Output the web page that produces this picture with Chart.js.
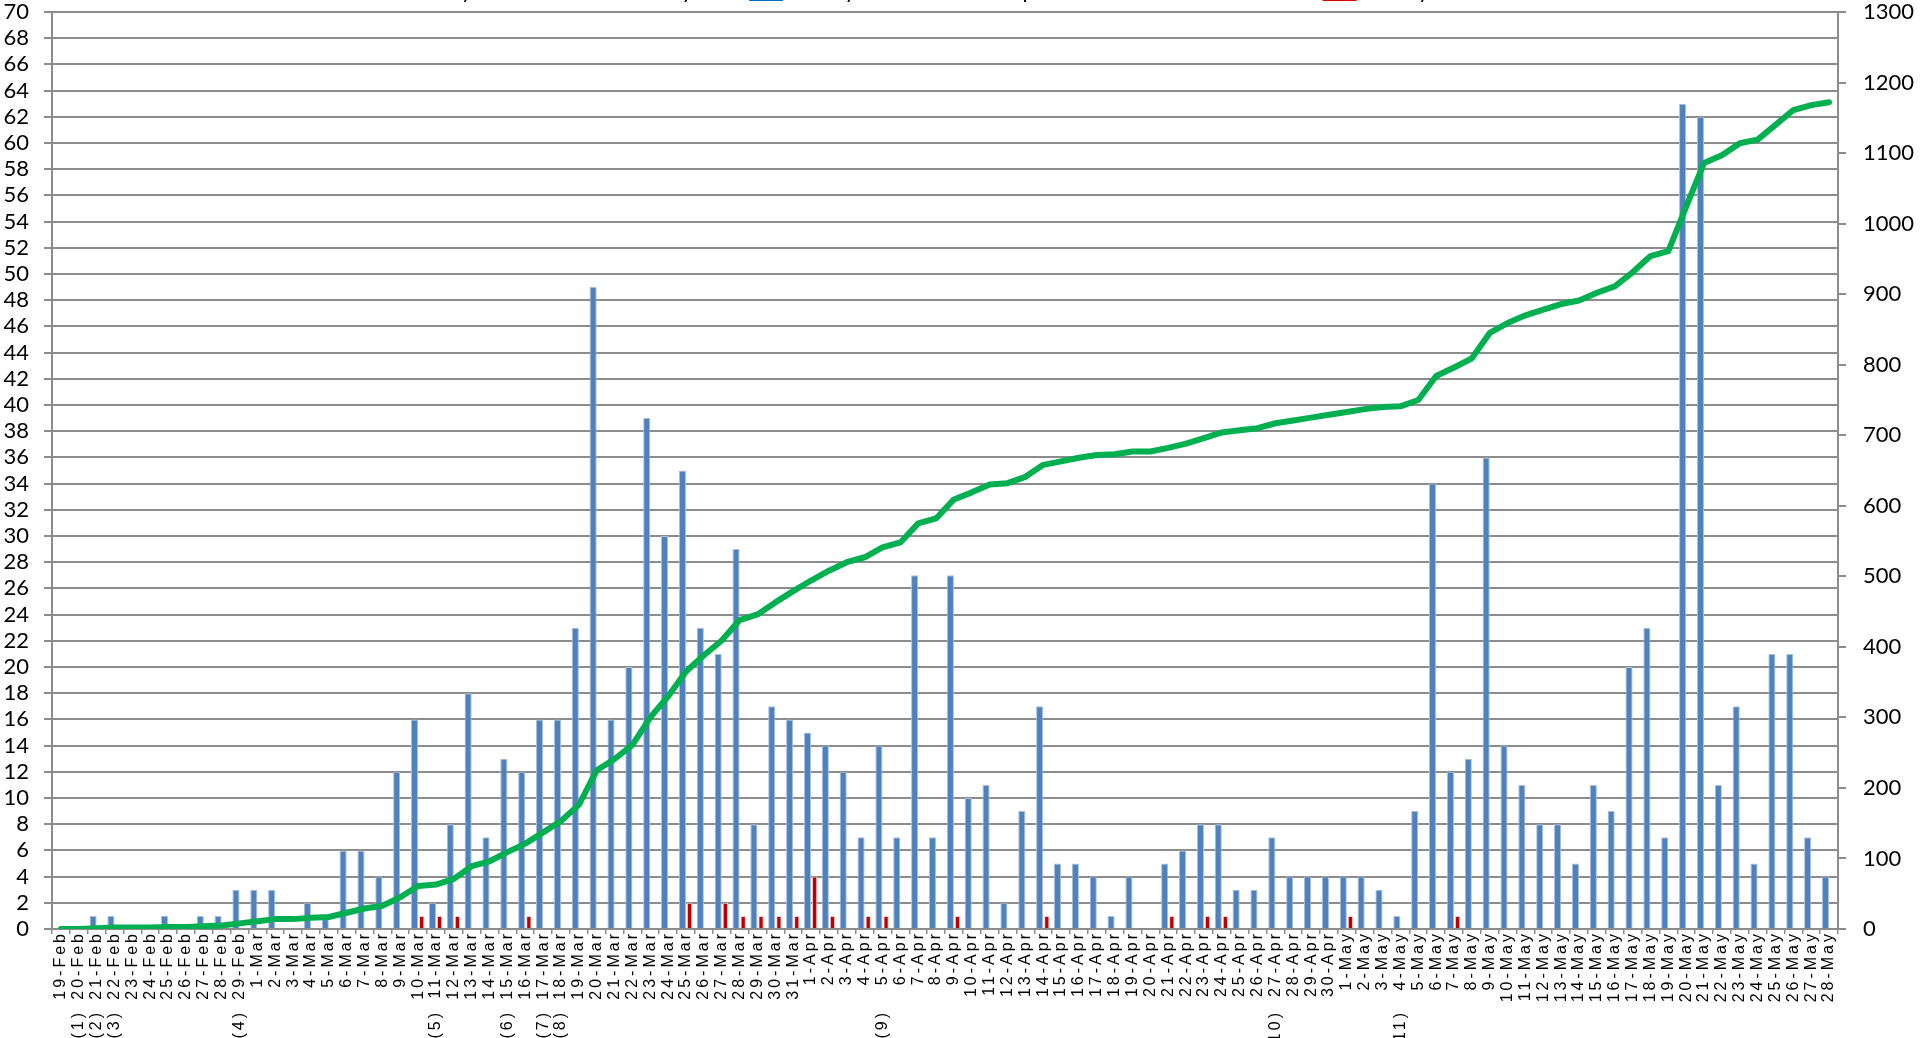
<!DOCTYPE html>
<html>
<head>
<meta charset="utf-8">
<title>Daily cases</title>
<script src="https://cdn.jsdelivr.net/npm/chart.js@4.4.1/dist/chart.umd.min.js"></script>
<style>
  html, body { margin: 0; padding: 0; background: #fff; width: 1920px; height: 1038px; overflow: hidden; }
  #wrap { position: absolute; left: 0; top: 0; width: 1920px; height: 1100px; }
</style>
</head>
<body>
<div id="wrap"><canvas id="chart"></canvas></div>
<script>
// category axis
const dates = [
  '19-Feb', '20-Feb', '21-Feb', '22-Feb', '23-Feb', '24-Feb', '25-Feb', '26-Feb', '27-Feb', '28-Feb', '29-Feb',
  '1-Mar', '2-Mar', '3-Mar', '4-Mar', '5-Mar', '6-Mar', '7-Mar', '8-Mar', '9-Mar', '10-Mar',
  '11-Mar', '12-Mar', '13-Mar', '14-Mar', '15-Mar', '16-Mar', '17-Mar', '18-Mar', '19-Mar', '20-Mar',
  '21-Mar', '22-Mar', '23-Mar', '24-Mar', '25-Mar', '26-Mar', '27-Mar', '28-Mar', '29-Mar', '30-Mar', '31-Mar',
  '1-Apr', '2-Apr', '3-Apr', '4-Apr', '5-Apr', '6-Apr', '7-Apr', '8-Apr', '9-Apr', '10-Apr',
  '11-Apr', '12-Apr', '13-Apr', '14-Apr', '15-Apr', '16-Apr', '17-Apr', '18-Apr', '19-Apr', '20-Apr',
  '21-Apr', '22-Apr', '23-Apr', '24-Apr', '25-Apr', '26-Apr', '27-Apr', '28-Apr', '29-Apr', '30-Apr',
  '1-May', '2-May', '3-May', '4-May', '5-May', '6-May', '7-May', '8-May', '9-May', '10-May',
  '11-May', '12-May', '13-May', '14-May', '15-May', '16-May', '17-May', '18-May', '19-May', '20-May',
  '21-May', '22-May', '23-May', '24-May', '25-May', '26-May', '27-May', '28-May'
];

// numbered notes printed under some dates
const noteMarks = ['(1)', '(2)', '(3)', '(4)', '(5)', '(6)', '(7)', '(8)', '(9)', '(10)', '(11)'];
const noteDates = ['20-Feb', '21-Feb', '22-Feb', '29-Feb', '11-Mar', '15-Mar', '17-Mar', '18-Mar', '5-Apr', '27-Apr', '4-May'];

// legend text is cut off at the top edge in the original
const seriesNames = [
  'Cumulative confirmed cases by date on the secondary axis',
  'Newly confirmed cases per date on the left hand axis.',
  'Newly recorded deaths on the left hand axis'
];

const dailyCases = [
  0, 0, 1, 1, 0, 0, 1, 0, 1, 1, 3,
  3, 3, 0, 2, 1, 6, 6, 4, 12, 16,
  2, 8, 18, 7, 13, 12, 16, 16, 23, 49,
  16, 20, 39, 30, 35, 23, 21, 29, 8, 17, 16,
  15, 14, 12, 7, 14, 7, 27, 7, 27, 10,
  11, 2, 9, 17, 5, 5, 4, 1, 4, 0,
  5, 6, 8, 8, 3, 3, 7, 4, 4, 4,
  4, 4, 3, 1, 9, 34, 12, 13, 36, 14,
  11, 8, 8, 5, 11, 9, 20, 23, 7, 63,
  62, 11, 17, 5, 21, 21, 7, 4
];

const dailyDeaths = [
  0, 0, 0, 0, 0, 0, 0, 0, 0, 0, 0,
  0, 0, 0, 0, 0, 0, 0, 0, 0, 1,
  1, 1, 0, 0, 0, 1, 0, 0, 0, 0,
  0, 0, 0, 0, 2, 0, 2, 1, 1, 1, 1,
  4, 1, 0, 1, 1, 0, 0, 0, 1, 0,
  0, 0, 0, 1, 0, 0, 0, 0, 0, 0,
  1, 0, 1, 1, 0, 0, 0, 0, 0, 0,
  1, 0, 0, 0, 0, 0, 1, 0, 0, 0,
  0, 0, 0, 0, 0, 0, 0, 0, 0, 0,
  0, 0, 0, 0, 0, 0, 0, 0
];

const totalCases = [
  0, 0, 1, 2, 2, 2, 3, 3, 4, 5, 8,
  11, 14, 14, 16, 17, 23, 29, 33, 45, 61,
  63, 71, 89, 96, 109, 121, 137, 153, 176, 225,
  241, 261, 300, 330, 365, 388, 409, 438, 446, 463, 479,
  494, 508, 520, 527, 541, 548, 575, 582, 609, 619,
  630, 632, 641, 658, 663, 668, 672, 673, 677, 677,
  682, 688, 696, 704, 707, 710, 717, 721, 725, 729,
  733, 737, 740, 741, 750, 784, 796, 809, 845, 859,
  870, 878, 886, 891, 902, 911, 931, 954, 961, 1024,
  1086, 1097, 1114, 1119, 1140, 1161, 1168, 1172
];

const leftMax = 70, leftStep = 2;
const rightMax = 1300, rightStep = 100;

const noteRow = dates.map((d) => {
  const k = noteDates.indexOf(d);
  return k >= 0 ? noteMarks[k] : '';
});

const GRID = '#8c8c8c';
const PLOT_TOP = 12;      // page y of the 70 line
const PLOT_BOTTOM = 929;  // page y of the 0 line
const X_H = 80, X2_H = 40;

// the date labels in the original are widely letter spaced
const spacedTicks = {
  id: 'spacedTicks',
  beforeDraw(chart) {
    ['x', 'x2'].forEach((id) => {
      const scale = chart.scales[id];
      if (!scale || scale._spaced) return;
      const draw = scale.drawLabels.bind(scale);
      scale.drawLabels = (area) => {
        chart.ctx.save();
        chart.ctx.letterSpacing = '3px';
        draw(area);
        chart.ctx.restore();
      };
      scale._spaced = true;
    });
  }
};

const ctx = document.getElementById('chart').getContext('2d');
const chart = new Chart(ctx, {
  data: {
    labels: dates,
    datasets: [
      {
        type: 'line',
        label: seriesNames[0],
        data: totalCases,
        yAxisID: 'y1',
        borderColor: '#00b050',
        backgroundColor: '#00b050',
        borderWidth: 6,
        pointRadius: 0,
        tension: 0,
        borderJoinStyle: 'round',
        borderCapStyle: 'round',
        order: 0
      },
      {
        type: 'bar',
        label: seriesNames[1],
        data: dailyCases,
        yAxisID: 'y',
        backgroundColor: '#4f81bd',
        borderColor: '#a9c0de',
        borderWidth: 1,
        categoryPercentage: 0.8,
        barPercentage: 1.0,
        order: 1
      },
      {
        type: 'bar',
        label: seriesNames[2],
        data: dailyDeaths,
        yAxisID: 'y',
        backgroundColor: '#c00000',
        borderColor: '#f0d0d0',
        borderWidth: 1,
        categoryPercentage: 0.8,
        barPercentage: 0.75,
        order: 1
      }
    ]
  },
  options: {
    responsive: true,
    maintainAspectRatio: false,
    animation: false,
    layout: { padding: 0 },
    plugins: {
      tooltip: { enabled: false },
      legend: {
        display: true,
        position: 'top',
        labels: {
          color: '#000',
          font: { family: 'Lato', size: 22 },
          boxWidth: 34,
          boxHeight: 20,
          padding: 14,
          generateLabels(c) {
            const items = Chart.defaults.plugins.legend.labels.generateLabels(c);
            items.forEach((it) => {
              it.lineWidth = 0;
              if (it.datasetIndex === 0) {
                it.fillStyle = 'rgba(0,0,0,0)';
                it.strokeStyle = 'rgba(0,0,0,0)';
              } else if (it.datasetIndex === 1) {
                it.fillStyle = '#0070c0';
              } else {
                it.fillStyle = '#e00000';
              }
            });
            return items;
          }
        }
      }
    },
    scales: {
      x: {
        position: 'bottom',
        offset: true,
        grid: { drawOnChartArea: false, offset: true, tickLength: 5, color: GRID, lineWidth: 1.5 },
        border: { display: true, color: GRID, width: 2 },
        ticks: {
          autoSkip: false,
          minRotation: 90,
          maxRotation: 90,
          padding: -3,
          color: '#000',
          font: { family: 'Liberation Sans', size: 16 }
        },
        afterFit: (s) => { s.height = X_H; }
      },
      x2: {
        type: 'category',
        labels: noteRow,
        position: 'bottom',
        offset: true,
        grid: { display: false, drawTicks: false },
        border: { display: false },
        ticks: {
          autoSkip: false,
          minRotation: 90,
          maxRotation: 90,
          padding: 1,
          color: '#000',
          font: { family: 'Liberation Sans', size: 16 }
        },
        afterFit: (s) => { s.height = X2_H; }
      },
      y: {
        position: 'left',
        min: 0,
        max: leftMax,
        grid: { color: GRID, lineWidth: 2, tickLength: 8 },
        border: { display: true, color: GRID, width: 2 },
        ticks: {
          stepSize: leftStep,
          autoSkip: false,
          padding: 15,
          color: '#000',
          font: { family: 'Lato', size: 22 }
        },
        afterFit: (s) => { s.width = 52; }
      },
      y1: {
        position: 'right',
        min: 0,
        max: rightMax,
        grid: { drawOnChartArea: false, color: GRID, lineWidth: 2, tickLength: 8 },
        border: { display: true, color: GRID, width: 2 },
        ticks: {
          stepSize: rightStep,
          autoSkip: false,
          padding: 17,
          color: '#000',
          font: { family: 'Lato', size: 22 },
          callback: (v) => String(v)
        },
        afterFit: (s) => { s.width = 1920 - 1838; }
      }
    }
  },
  plugins: [spacedTicks]
});

// shift the canvas so the plot sits where it does in the original;
// the legend ends up mostly above the top edge of the page, as there
const wrap = document.getElementById('wrap');
const off = chart.chartArea.top - PLOT_TOP;
wrap.style.top = -off + 'px';
wrap.style.height = (off + PLOT_BOTTOM + X_H + X2_H) + 'px';
chart.resize();
</script>
</body>
</html>
